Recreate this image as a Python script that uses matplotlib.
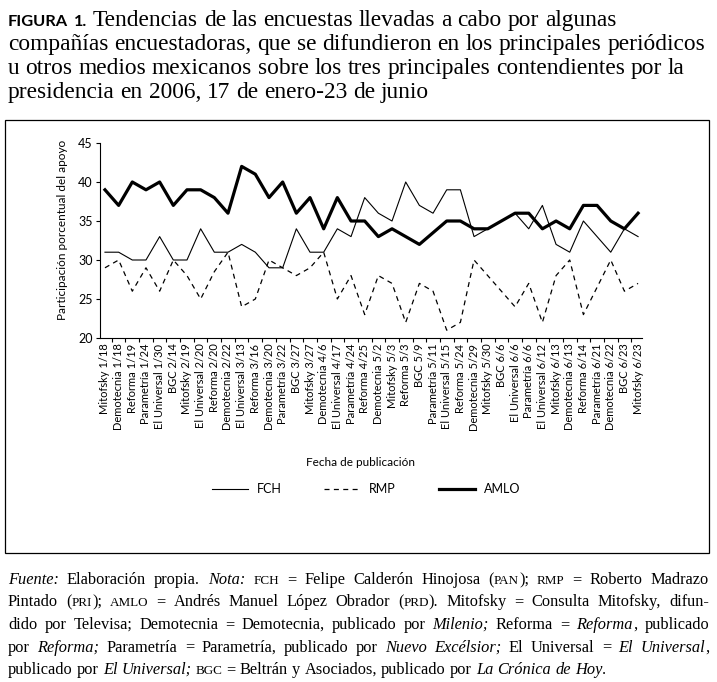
import re
import numpy as np
import matplotlib.pyplot as plt
from matplotlib.patches import Rectangle

plt.rcParams['font.family'] = ['Lato', 'DejaVu Sans']
plt.rcParams['axes.linewidth'] = 0.8

# fechas de publicacion (encuestadora + fecha)
fechas = ["Mitofsky 1/18", "Demotecnia 1/18", "Reforma 1/19", "Parametría 1/24",
          "El Universal 1/30", "BGC 2/14", "Mitofsky 2/19", "El Universal 2/20",
          "Reforma 2/20", "Demotecnia 2/22", "El Universal 3/13", "Reforma 3/16",
          "Demotecnia 3/20", "Parametría 3/22", "BGC 3/27", "Mitofsky 3/27",
          "Demotecnia 4/6", "El Universal 4/17", "Parametría 4/24", "Reforma 4/25",
          "Demotecnia 5/2", "Mitofsky 5/3", "Reforma 5/3", "BGC 5/9",
          "Parametría 5/11", "El Universal 5/15", "Reforma 5/24", "Demotecnia 5/29",
          "Mitofsky 5/30", "BGC 6/6", "El Universal 6/6", "Parametría 6/6",
          "El Universal 6/12", "Mitofsky 6/13", "Demotecnia 6/13", "Reforma 6/14",
          "Parametría 6/21", "Demotecnia 6/22", "BGC 6/23", "Mitofsky 6/23"]

fch = [31, 31, 30, 30, 33, 30, 30, 34, 31, 31,
       32, 31, 29, 29, 34, 31, 31, 34, 33, 38,
       36, 35, 40, 37, 36, 39, 39, 33, 34, 35,
       36, 34, 37, 32, 31, 35, 33, 31, 34, 33]
rmp = [29, 30, 26, 29, 26, 30, 28, 25, 28.5, 31,
       24, 25, 30, 29, 28, 29, 31, 25, 28, 23,
       28, 27, 22, 27, 26, 21, 22, 30, 28, 26,
       24, 27, 22, 28, 30, 23, 26.5, 30, 26, 27]
amlo = [39, 37, 40, 39, 40, 37, 39, 39, 38, 36,
        42, 41, 38, 40, 36, 38, 34, 38, 35, 35,
        33, 34, 33, 32, 33.5, 35, 35, 34, 34, 35,
        36, 36, 34, 35, 34, 37, 37, 35, 34, 36]

titulo = ["@FIGURA 1.@ Tendencias de las encuestas llevadas a cabo por algunas",
          "compañías encuestadoras, que se difundieron en los principales periódicos",
          "u otros medios mexicanos sobre los tres principales contendientes por la",
          "presidencia en 2006, 17 de enero-23 de junio"]

nota = ["*Fuente:* Elaboración propia. *Nota:* ^FCH^ = Felipe Calderón Hinojosa (^PAN^); ^RMP^ = Roberto Madrazo",
        "Pintado (^PRI^); ^AMLO^ = Andrés Manuel López Obrador (^PRD^). Mitofsky = Consulta Mitofsky, difun-",
        "dido por Televisa; Demotecnia = Demotecnia, publicado por *Milenio;* Reforma = *Reforma*, publicado",
        "por *Reforma;* Parametría = Parametría, publicado por *Nuevo Excélsior;* El Universal = *El Universal*,",
        "publicado por *El Universal;* ^BGC^ = Beltrán y Asociados, publicado por *La Crónica de Hoy*."]

W, H = 717, 682
fig = plt.figure(figsize=(W / 100, H / 100), dpi=100)


def put(s, st, size):
    kw = dict(fontsize=size, family=['Liberation Serif', 'DejaVu Serif'])
    if st == 'i':
        kw['style'] = 'italic'
    elif st == 'sc':
        kw['fontsize'] = size * 0.8
    elif st == 'sb':
        kw = dict(fontsize=size * 0.7, family=['Lato', 'DejaVu Sans'], weight='bold')
    return fig.text(0, 0, s, va='baseline', ha='left', **kw)


def parse(line):
    words, st = [], 'r'
    marks = {'*': 'i', '^': 'sc', '@': 'sb'}
    for w in line.split(' '):
        pieces = []
        for tok in re.split(r'([*^@])', w):
            if tok in marks:
                st = marks[tok] if st != marks[tok] else 'r'
            elif tok:
                pieces.append((tok, st))
        words.append(pieces)
    return words


def rich_line(line, x0, y0, size, width=None):
    rend = fig.canvas.get_renderer()
    items, total = [], 0
    for word in parse(line):
        ts = [put(s, st, size) for s, st in word]
        ws = [t.get_window_extent(rend).width for t in ts]
        items.append((ts, ws))
        total += sum(ws)
    gap = size * 100 / 72 * 0.25
    if width is not None:
        gap = (width - total) / (len(items) - 1)
    x = x0
    for ts, ws in items:
        for t, w in zip(ts, ws):
            t.set_position((x / W, 1 - y0 / H))
            x += w
        x += gap


# titulo
for k, line in enumerate(titulo):
    rich_line(line, 8, 26 + 24 * k, 16.8)

# recuadro
fig.patches.append(Rectangle((5 / W, 1 - 553 / H), 704 / W, 433 / H,
                             transform=fig.transFigure, fill=False,
                             ec='black', lw=0.9))

# grafica
ax = fig.add_axes([99.5 / W, 1 - 338 / H, 542 / W, 195 / H])
x = np.arange(len(fechas))
ax.plot(x, fch, color='black', lw=0.8, label='FCH')
ax.plot(x, rmp, color='black', lw=0.9, ls=(0, (4, 3.5)), label='RMP')
ax.plot(x, amlo, color='black', lw=2.3, label='AMLO')

ax.set_xlim(-0.4, 39.25)
ax.set_ylim(20, 45)
ax.set_yticks(range(20, 46, 5))
ax.spines['top'].set_visible(False)
ax.spines['right'].set_visible(False)
ax.set_xticks(x)
ax.set_xticklabels(fechas, rotation=90, fontsize=8)
ax.set_xticks(np.arange(0.5, 39.3, 1), minor=True)
ax.tick_params(axis='x', which='major', length=0, pad=4)
ax.tick_params(axis='x', which='minor', length=3, width=0.8)
ax.tick_params(axis='y', length=3, width=0.8, labelsize=9, pad=2)

fig.text(62 / W, 1 - 230 / H, 'Participación porcentual del apoyo',
         rotation=90, ha='center', va='center', fontsize=8.5)
fig.text(360 / W, 1 - 462 / H, 'Fecha de publicación',
         ha='center', va='center', fontsize=8.5)

fig.legend(loc='center', bbox_to_anchor=(366 / W, 1 - 489 / H), ncol=3,
           frameon=False, fontsize=9, handlelength=2.9, handletextpad=0.7,
           columnspacing=3.4)

# nota al pie
for k, line in enumerate(nota):
    rich_line(line, 8, 584 + 22.5 * k, 11.8, width=701 if k < 4 else None)

fig.savefig('out.png', dpi=100)
